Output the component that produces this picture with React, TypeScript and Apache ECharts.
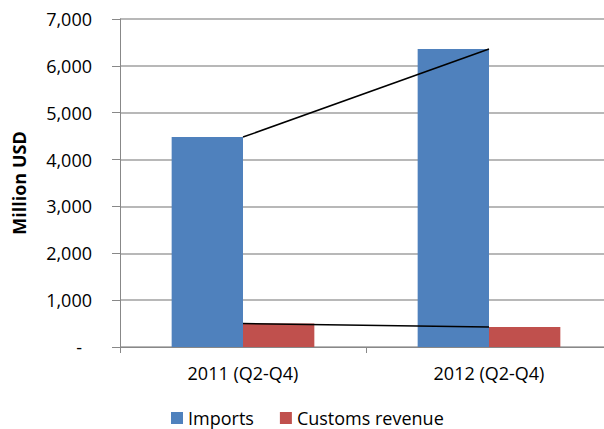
import React, { useEffect, useRef } from "react";
import * as echarts from "echarts";

const categories = ["2011 (Q2-Q4)", "2012 (Q2-Q4)"];
const imports = [4480, 6360];
const customsRevenue = [500, 425];
const seriesNames = ["Imports", "Customs revenue"];

const FONT = "'Open Sans', sans-serif";

export default function App() {
  const ref = useRef<HTMLDivElement>(null);
  useEffect(() => {
    if (!ref.current) return;
    const chart = echarts.init(ref.current, undefined, { renderer: "svg" });
    chart.setOption({
      animation: false,
      backgroundColor: "#ffffff",
      textStyle: { fontFamily: FONT },
      grid: { left: 120, right: 0, top: 19, bottom: 82, containLabel: false },
      legend: {
        data: seriesNames,
        left: 166,
        top: 404,
        itemWidth: 12,
        itemHeight: 12,
        itemGap: 26,
        icon: "rect",
        textStyle: { fontFamily: FONT, fontSize: 18, color: "#000" },
      },
      xAxis: {
        type: "category",
        data: categories,
        axisLine: { lineStyle: { color: "#888", width: 1 } },
        axisTick: { show: true, length: 6, lineStyle: { color: "#888" } },
        axisLabel: { fontFamily: FONT, fontSize: 18, color: "#000", margin: 17 },
      },
      yAxis: {
        type: "value",
        min: 0,
        max: 7000,
        interval: 1000,
        name: "Million USD",
        nameLocation: "middle",
        nameGap: 92,
        nameTextStyle: { fontFamily: FONT, fontSize: 18, fontWeight: "bold", color: "#000" },
        axisLine: { show: true, lineStyle: { color: "#888", width: 1 } },
        axisTick: { show: true, length: 8, lineStyle: { color: "#888" } },
        splitLine: { show: true, lineStyle: { color: "#a0a0a0", width: 1.5 } },
        axisLabel: {
          fontFamily: FONT,
          fontSize: 18,
          color: "#000",
          margin: 28,
          formatter: (v: number) =>
            v === 0 ? "{d|-}" : v.toLocaleString("en-US"),
          rich: { d: { fontFamily: FONT, fontSize: 18, color: "#000", padding: [0, 10, 0, 0] } },
        },
      },
      series: [
        {
          name: seriesNames[0],
          type: "bar",
          data: imports,
          barGap: "0%",
          barCategoryGap: "42%",
          itemStyle: { color: "#4F81BD" },
        },
        {
          name: seriesNames[1],
          type: "bar",
          data: customsRevenue,
          itemStyle: { color: "#C0504D" },
        },
        {
          type: "line",
          data: imports,
          symbol: "none",
          z: 5,
          lineStyle: { color: "#000", width: 1.5 },
        },
        {
          type: "line",
          data: customsRevenue,
          symbol: "none",
          z: 5,
          lineStyle: { color: "#000", width: 1.5 },
        },
      ],
    });
    return () => chart.dispose();
  }, []);
  return (
    <div
      style={{
        position: "absolute",
        left: 0,
        top: 0,
        width: 604,
        height: 429,
        overflow: "hidden",
      }}
    >
      <div ref={ref} style={{ width: 612, height: 429 }} />
    </div>
  );
}
